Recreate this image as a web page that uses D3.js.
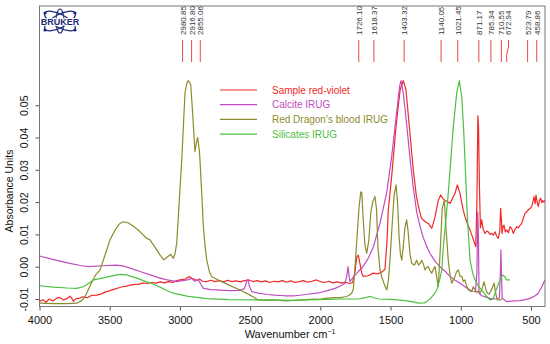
<!DOCTYPE html>
<html>
<head>
<meta charset="utf-8">
<script src="https://cdn.jsdelivr.net/npm/d3@7"></script>
<style>
  html, body { margin: 0; padding: 0; background: #fff; }
  svg { display: block; font-family: "Liberation Sans", Arial, sans-serif; }
</style>
</head>
<body>
<div id="chart"></div>
<script>
// FT-IR spectra: sample vs IRUG references. [wavenumber cm-1, absorbance]
const sampleRedViolet = [
  [4000,-0.0108],[3975,-0.0102],[3955,-0.0110],[3930,-0.0100],[3905,-0.0106],[3880,-0.0098],[3855,-0.0095],
  [3830,-0.0103],[3806,-0.0099],[3783,-0.0091],[3770,-0.0098],[3759,-0.0107],[3740,-0.0099],[3712,-0.0097],
  [3690,-0.0093],[3660,-0.0096],[3630,-0.0089],[3593,-0.0088],[3560,-0.0084],[3530,-0.0078],[3498,-0.0074],
  [3470,-0.0070],[3440,-0.0066],[3410,-0.0062],[3380,-0.0060],[3355,-0.0057],[3320,-0.0055],[3290,-0.0054],
  [3260,-0.0050],[3237,-0.0052],[3200,-0.0049],[3170,-0.0051],[3140,-0.0047],[3110,-0.0050],[3080,-0.0046],
  [3050,-0.0049],[3023,-0.0043],[2990,-0.0040],[2960,-0.0038],[2935,-0.0030],[2915,-0.0036],[2895,-0.0039],
  [2880,-0.0043],[2860,-0.0038],[2840,-0.0045],[2809,-0.0046],[2780,-0.0042],[2750,-0.0046],[2720,-0.0043],
  [2690,-0.0047],[2660,-0.0042],[2630,-0.0046],[2600,-0.0044],[2570,-0.0047],[2540,-0.0043],[2510,-0.0041],
  [2480,-0.0046],[2450,-0.0043],[2420,-0.0047],[2390,-0.0044],[2360,-0.0049],[2330,-0.0045],[2300,-0.0047],
  [2270,-0.0043],[2240,-0.0048],[2210,-0.0044],[2180,-0.0049],[2150,-0.0046],[2120,-0.0043],[2090,-0.0048],
  [2060,-0.0045],[2030,-0.0041],[2000,-0.0046],[1970,-0.0049],[1940,-0.0045],[1910,-0.0050],[1880,-0.0047],
  [1850,-0.0051],[1820,-0.0048],[1790,-0.0052],[1770,-0.0049],[1755,-0.0020],[1740,0.0030],[1730,0.0036],
  [1718,0.0010],[1705,-0.0020],[1694,-0.0030],[1660,-0.0028],[1623,-0.0020],[1590,-0.0022],[1560,-0.0016],
  [1540,-0.0008],[1525,0.0080],[1516,0.0176],[1492,0.0279],[1461,0.0433],[1432,0.0547],[1409,0.0576],
  [1390,0.0547],[1366,0.0433],[1338,0.0300],[1315,0.0215],[1295,0.0175],[1280,0.0150],[1255,0.0140],
  [1231,0.0134],[1207,0.0119],[1195,0.0135],[1183,0.0155],[1160,0.0206],[1143,0.0222],[1125,0.0210],
  [1112,0.0205],[1090,0.0200],[1076,0.0196],[1055,0.0215],[1041,0.0227],[1024,0.0253],[1005,0.0227],
  [985,0.0180],[970,0.0155],[950,0.0130],[934,0.0114],[915,0.0090],[905,0.0077],[893,0.0062],[885,0.0200],
  [878,0.0467],[873,0.0430],[867,0.0250],[860,0.0120],[851,0.0145],[840,0.0115],[827,0.0103],[815,0.0110],
  [804,0.0108],[792,0.0100],[780,0.0103],[768,0.0098],[756,0.0108],[745,0.0095],[733,0.0088],[722,0.0110],
  [716,0.0181],[711,0.0150],[706,0.0103],[699,0.0125],[692,0.0129],[683,0.0108],[673,0.0114],[661,0.0105],
  [649,0.0124],[637,0.0118],[626,0.0103],[614,0.0115],[601,0.0124],[590,0.0120],[578,0.0128],[566,0.0134],
  [554,0.0150],[542,0.0165],[530,0.0170],[519,0.0176],[507,0.0180],[495,0.0186],[486,0.0200],[478,0.0217],
  [470,0.0195],[464,0.0222],[456,0.0200],[448,0.0186],[440,0.0205],[431,0.0212],[423,0.0198],[416,0.0205],
  [408,0.0200],[400,0.0206]
];

const calciteIrug = [
  [4000,0.0033],[3900,0.0022],[3800,0.0012],[3700,0.0003],[3652,0.0000],[3550,0.0003],[3450,0.0005],
  [3400,0.0002],[3350,-0.0005],[3284,-0.0015],[3200,-0.0027],[3154,-0.0034],[3100,-0.0040],[3023,-0.0046],
  [2980,-0.0043],[2940,-0.0040],[2916,-0.0036],[2895,-0.0045],[2880,-0.0042],[2869,-0.0040],[2850,-0.0055],
  [2833,-0.0067],[2780,-0.0071],[2738,-0.0072],[2650,-0.0074],[2572,-0.0073],[2540,-0.0068],[2525,-0.0045],
  [2515,-0.0040],[2505,-0.0060],[2489,-0.0077],[2442,-0.0082],[2380,-0.0086],[2325,-0.0088],[2250,-0.0090],
  [2180,-0.0090],[2100,-0.0086],[2002,-0.0080],[1950,-0.0074],[1895,-0.0067],[1850,-0.0058],[1824,-0.0051],
  [1812,-0.0030],[1803,0.0000],[1795,-0.0030],[1789,-0.0046],[1760,-0.0030],[1730,-0.0015],[1705,-0.0005],
  [1660,0.0025],[1623,0.0060],[1575,0.0135],[1527,0.0230],[1492,0.0340],[1456,0.0480],[1435,0.0560],
  [1425,0.0576],[1410,0.0540],[1385,0.0440],[1360,0.0330],[1338,0.0245],[1314,0.0170],[1290,0.0125],
  [1267,0.0090],[1240,0.0060],[1219,0.0041],[1180,0.0015],[1148,0.0000],[1110,-0.0015],[1076,-0.0030],
  [1040,-0.0042],[1005,-0.0051],[970,-0.0062],[934,-0.0072],[910,-0.0076],[895,-0.0077],[885,-0.0020],
  [879,0.0170],[874,0.0100],[870,-0.0082],[850,-0.0090],[820,-0.0094],[791,-0.0098],[750,-0.0100],
  [725,-0.0097],[718,-0.0020],[714,0.0052],[710,-0.0020],[705,-0.0098],[673,-0.0108],[620,-0.0106],
  [578,-0.0105],[540,-0.0102],[507,-0.0098],[470,-0.0090],[448,-0.0082],[420,-0.0060],[400,-0.0041]
];

const dragonsBloodIrug = [
  [4000,-0.0113],[3900,-0.0114],[3800,-0.0114],[3735,-0.0113],[3700,-0.0105],[3676,-0.0093],[3640,-0.0060],
  [3600,-0.0025],[3569,-0.0010],[3530,0.0040],[3498,0.0083],[3460,0.0115],[3430,0.0133],[3403,0.0139],
  [3370,0.0136],[3330,0.0125],[3284,0.0108],[3237,0.0088],[3213,0.0083],[3165,0.0052],[3140,0.0035],
  [3113,0.0021],[3090,0.0030],[3066,0.0038],[3047,0.0026],[3035,0.0040],[3023,0.0072],[3005,0.0200],
  [2987,0.0330],[2964,0.0537],[2950,0.0570],[2940,0.0576],[2923,0.0563],[2910,0.0480],[2893,0.0356],
  [2880,0.0390],[2873,0.0400],[2862,0.0360],[2857,0.0330],[2845,0.0230],[2833,0.0124],[2820,0.0060],
  [2809,0.0021],[2790,-0.0015],[2774,-0.0031],[2750,-0.0036],[2727,-0.0041],[2650,-0.0057],[2572,-0.0072],
  [2500,-0.0088],[2442,-0.0103],[2380,-0.0104],[2325,-0.0103],[2250,-0.0106],[2180,-0.0104],[2100,-0.0102],
  [2050,-0.0100],[2000,-0.0101],[1967,-0.0098],[1900,-0.0096],[1860,-0.0096],[1824,-0.0093],[1800,-0.0090],
  [1777,-0.0082],[1765,-0.0070],[1745,0.0050],[1725,0.0180],[1712,0.0232],[1705,0.0230],[1695,0.0150],
  [1683,0.0070],[1670,0.0041],[1655,0.0080],[1640,0.0170],[1627,0.0200],[1611,0.0217],[1600,0.0180],
  [1590,0.0060],[1575,-0.0010],[1563,-0.0031],[1540,-0.0060],[1527,-0.0072],[1515,-0.0040],[1504,0.0020],
  [1490,0.0120],[1475,0.0220],[1461,0.0253],[1450,0.0200],[1440,0.0100],[1430,0.0040],[1420,0.0020],
  [1410,0.0060],[1398,0.0120],[1385,0.0145],[1375,0.0110],[1362,0.0040],[1349,0.0010],[1330,0.0005],
  [1314,0.0020],[1300,0.0005],[1290,0.0010],[1278,0.0020],[1266,0.0008],[1255,-0.0010],[1243,-0.0002],
  [1231,0.0000],[1219,-0.0012],[1207,-0.0020],[1195,-0.0008],[1183,0.0000],[1172,-0.0030],[1160,-0.0062],
  [1145,0.0060],[1132,0.0180],[1117,0.0206],[1105,0.0120],[1089,0.0020],[1075,-0.0030],[1064,-0.0051],
  [1052,-0.0040],[1041,-0.0030],[1029,-0.0015],[1017,-0.0010],[1005,-0.0030],[993,-0.0030],[982,-0.0045],
  [970,-0.0041],[958,-0.0060],[946,-0.0072],[934,-0.0075],[922,-0.0077],[911,-0.0062],[900,-0.0070],
  [886,-0.0080],[875,-0.0075],[863,-0.0082],[850,-0.0070],[834,-0.0046],[822,-0.0070],[810,-0.0082],
  [798,-0.0085],[787,-0.0077],[775,-0.0065],[763,-0.0051],[752,-0.0080],[740,-0.0103],[720,-0.0103],
  [708,-0.0100]
];

const silicatesIrug = [
  [4000,-0.0059],[3900,-0.0063],[3800,-0.0066],[3735,-0.0067],[3688,-0.0062],[3650,-0.0052],[3617,-0.0041],
  [3569,-0.0037],[3500,-0.0030],[3427,-0.0024],[3380,-0.0025],[3355,-0.0029],[3300,-0.0036],[3261,-0.0043],
  [3200,-0.0052],[3147,-0.0062],[3100,-0.0072],[3047,-0.0082],[2950,-0.0091],[2809,-0.0099],[2650,-0.0102],
  [2430,-0.0103],[2325,-0.0103],[2200,-0.0104],[2086,-0.0103],[1950,-0.0101],[1850,-0.0100],[1730,-0.0100],
  [1680,-0.0096],[1646,-0.0092],[1620,-0.0096],[1587,-0.0100],[1500,-0.0101],[1397,-0.0105],[1350,-0.0108],
  [1302,-0.0113],[1260,-0.0112],[1242,-0.0108],[1215,-0.0098],[1190,-0.0085],[1171,-0.0072],[1150,-0.0040],
  [1135,-0.0010],[1124,0.0062],[1105,0.0150],[1089,0.0227],[1053,0.0433],[1029,0.0537],[1010,0.0576],
  [993,0.0526],[980,0.0430],[970,0.0330],[953,0.0155],[934,0.0020],[915,-0.0020],[898,-0.0041],
  [875,-0.0060],[851,-0.0072],[820,-0.0090],[791,-0.0103],[770,-0.0100],[756,-0.0082],[738,-0.0060],
  [720,-0.0041],[708,-0.0030],[697,-0.0026],[685,-0.0032],[673,-0.0041],[649,-0.0041]
];

const seriesNames  = ["Sample red-violet", "Calcite IRUG", "Red Dragon\u2019s blood IRUG", "Silicates IRUG"];
const seriesColors = ["#f02828", "#c04cc0", "#8c8c2c", "#4cc040"];
const seriesData   = [sampleRedViolet, calciteIrug, dragonsBloodIrug, silicatesIrug];

const peakLabels = ["2980.85","2916.80","2855.06","1726.10","1618.37","1403.32","1140.05",
                    "1021.45","871.17","785.34","710.55","672.94","523.79","458.86"];

const xTicks = [4000, 3500, 3000, 2500, 2000, 1500, 1000, 500];
const yTicks = [-0.01, 0.00, 0.01, 0.02, 0.03, 0.04, 0.05];

// ── layout
const W = 550, H = 344;
const plot = { left: 39.5, right: 545, top: 6, bottom: 306.5 };

const x = d3.scaleLinear().domain([4000, 400]).range([plot.left, plot.right]);
const y = d3.scaleLinear().domain([-0.01232, 0.0807]).range([plot.bottom, plot.top]);

const svg = d3.select("#chart").append("svg")
  .attr("width", W).attr("height", H);

svg.append("clipPath").attr("id", "clip")
  .append("rect")
  .attr("x", plot.left).attr("y", plot.top)
  .attr("width", plot.right - plot.left).attr("height", plot.bottom - plot.top);

// axes
const xAxis = svg.append("g")
  .attr("transform", `translate(0,${plot.bottom})`)
  .call(d3.axisBottom(x).tickValues(xTicks).tickFormat(d3.format("d")).tickSize(4).tickSizeOuter(0));
xAxis.select(".domain").remove();
xAxis.selectAll("line").attr("stroke", "#555");
xAxis.selectAll("text").attr("font-size", 11).attr("fill", "#111").attr("dy", "0.95em");

const yAxis = svg.append("g")
  .attr("transform", `translate(${plot.left},0)`)
  .call(d3.axisLeft(y).tickValues(yTicks).tickFormat(d3.format(".2f")).tickSize(4).tickSizeOuter(0));
yAxis.select(".domain").remove();
yAxis.selectAll("line").attr("stroke", "#555");
yAxis.selectAll("text")
  .attr("font-size", 10.5).attr("fill", "#111")
  .attr("x", 0).attr("dy", 0)
  .attr("text-anchor", "middle")
  .attr("transform", "translate(-12,0) rotate(-90)")
  .text((d) => d3.format(".2f")(d).replace("\u2212", "-"));

// frame
svg.append("rect")
  .attr("x", plot.left).attr("y", plot.top)
  .attr("width", plot.right - plot.left).attr("height", plot.bottom - plot.top)
  .attr("fill", "none").attr("stroke", "#777").attr("stroke-width", 1);

// axis titles
svg.append("text")
  .attr("x", 290).attr("y", 338)
  .attr("text-anchor", "middle").attr("font-size", 11).attr("fill", "#111")
  .html('Wavenumber cm<tspan dy="-4" font-size="7">\u22121</tspan>');

svg.append("text")
  .attr("transform", "translate(13,191) rotate(-90)")
  .attr("text-anchor", "middle").attr("font-size", 10.5).attr("fill", "#111")
  .text("Absorbance Units");

// spectra
const line = d3.line().x((d) => x(d[0])).y((d) => y(d[1]));
const gLines = svg.append("g").attr("clip-path", "url(#clip)");
seriesData.forEach((data, i) => {
  gLines.append("path")
    .datum(data)
    .attr("d", line)
    .attr("fill", "none")
    .attr("stroke", seriesColors[i])
    .attr("stroke-width", 1.2)
    .attr("stroke-linejoin", "round");
});

// peak markers
const gPeaks = svg.append("g");
peakLabels.forEach((lbl) => {
  const px = x(+lbl);
  // 672.94 is nudged right so it does not collide with 710.55
  const tx = lbl === "672.94" ? px + 1.8 : px;
  gPeaks.append("path")
    .attr("d", `M${tx},40 L${tx},47 L${px},55 L${px},62`)
    .attr("fill", "none").attr("stroke", "#e84848").attr("stroke-width", 1);
  gPeaks.append("text")
    .attr("transform", `translate(${tx + 3},35) rotate(-90)`)
    .attr("font-size", 8).attr("fill", "#333")
    .text(lbl);
});

// legend
const gLegend = svg.append("g");
seriesNames.forEach((name, i) => {
  const ly = 90 + i * 14.7;
  gLegend.append("line")
    .attr("x1", 220).attr("x2", 257).attr("y1", ly).attr("y2", ly)
    .attr("stroke", seriesColors[i]).attr("stroke-width", 1.2);
  gLegend.append("text")
    .attr("x", 272).attr("y", ly + 3.5)
    .attr("font-size", 10).attr("fill", seriesColors[i])
    .text(name);
});

// Bruker logo (rough)
const logo = svg.append("g").attr("transform", "translate(60,21)");
const navy = "#1d2b78";
[-28, 28].forEach((a) => {
  logo.append("ellipse")
    .attr("rx", 17).attr("ry", 6.5)
    .attr("transform", `rotate(${a})`)
    .attr("fill", "none").attr("stroke", navy).attr("stroke-width", 1.3);
});
logo.append("ellipse")
  .attr("rx", 4).attr("ry", 12)
  .attr("fill", "none").attr("stroke", navy).attr("stroke-width", 1.1);
[[-15,-8],[15,-8],[-15,9],[15,9]].forEach(([cx, cy]) => {
  logo.append("circle").attr("cx", cx).attr("cy", cy).attr("r", 1.6).attr("fill", navy);
});
logo.append("text")
  .attr("x", 0).attr("y", 3.5).attr("text-anchor", "middle")
  .attr("font-size", 9).attr("font-weight", "bold").attr("fill", navy)
  .attr("stroke", "#fff").attr("stroke-width", 2).attr("paint-order", "stroke")
  .text("BRUKER");
</script>
</body>
</html>
